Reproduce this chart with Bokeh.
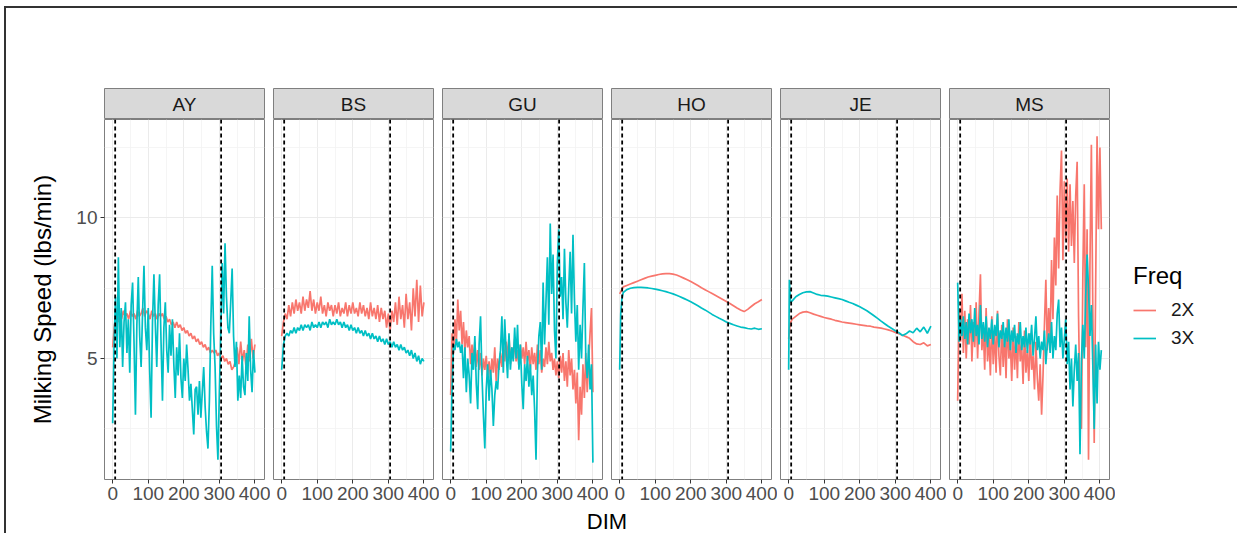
from bokeh.plotting import figure
from bokeh.layouts import row, column
from bokeh.models import (Range1d, FixedTicker, Span, Label, Legend, LegendItem,
                          Spacer)
from bokeh.embed import file_html
from bokeh.resources import INLINE

# ---------------- data ----------------
panels = ["AY", "BS", "GU", "HO", "JE", "MS"]
freqs = ["2X", "3X"]
vline_dim = [7, 305]
x_ticks = [0, 100, 200, 300, 400]
x_minor = [50, 150, 250, 350]
y_ticks = [5, 10]
y_minor = [2.5, 7.5, 12.5]

ay_2x = [5.4, 6.2, 6.5, 6.3, 6.6, 6.4, 6.7, 6.5, 6.6, 6.4,
         6.7, 6.5, 6.6, 6.4, 6.7, 6.5, 6.6, 6.8, 6.5, 6.7,
         6.6, 6.4, 6.7, 6.5, 6.6, 6.4, 6.6, 6.5, 6.6, 6.4,
         6.5, 6.3, 6.4, 6.2, 6.3, 6.1, 6.3, 6.1, 6.2, 6.0,
         6.1, 5.9, 6.0, 5.8, 5.9, 5.7, 5.8, 5.6, 5.7, 5.5,
         5.6, 5.4, 5.5, 5.3, 5.4, 5.2, 5.3, 5.2, 5.3, 5.1,
         5.2, 5.0, 5.1, 4.9, 5.0, 4.8, 4.9, 4.6, 4.7, 4.9,
         5.4, 4.8, 5.6, 4.9, 5.3, 4.7, 5.5, 4.9, 5.7, 5.0,
         5.5]
ay_2x_dim = list(range(0, 401, 5))

ay_3x = [2.7, 5.5, 7.2, 5.0, 8.6, 5.4, 6.8, 4.7, 6.3, 7.0,
         5.2, 6.4, 4.5, 6.9, 7.7, 5.6, 3.0, 6.2, 7.9, 5.8,
         4.7, 6.6, 8.3, 6.1, 5.3, 6.8, 4.6, 2.9, 6.3, 8.0,
         6.2, 4.7, 6.9, 8.0, 5.6, 3.5, 6.1, 7.0, 5.3, 4.5,
         6.2, 5.1, 6.4, 4.8, 3.6, 5.4, 4.4, 5.9, 4.3, 3.6,
         5.0, 4.2, 5.5, 4.6, 3.5, 4.1, 3.2, 2.3, 3.9, 4.0,
         3.0, 4.2, 2.9, 3.8, 4.7, 3.3, 2.4, 1.8, 3.5, 6.2,
         8.3, 5.9, 4.7, 2.6, 1.4, 3.8, 5.9, 8.4, 6.6, 9.1,
         7.2, 6.1, 5.9, 7.0, 8.2, 5.8, 4.7, 5.6, 3.5, 4.4,
         3.6, 5.1, 4.0, 3.7, 5.2, 4.2, 6.5, 4.6, 3.8, 5.3,
         4.5]
ay_3x_dim = list(range(0, 401, 4))

bs_2x = [5.8, 6.3, 6.6, 6.4, 6.9, 6.5, 7.0, 6.6, 7.1, 6.7,
         7.0, 6.6, 7.2, 6.7, 7.1, 6.8, 7.4, 6.7, 7.1, 6.6,
         7.0, 6.7, 7.2, 6.6, 6.9, 6.5, 7.0, 6.7, 6.9, 6.5,
         6.9, 6.6, 7.0, 6.5, 6.8, 6.6, 7.0, 6.5, 6.9, 6.6,
         7.0, 6.6, 6.8, 6.5, 7.0, 6.6, 6.9, 6.5, 6.8, 6.4,
         7.0, 6.5, 6.8, 6.4, 6.9, 6.3, 6.8, 6.4, 6.7, 6.1,
         6.6, 6.0, 6.7, 6.3, 7.0, 6.2, 7.2, 6.4, 6.9, 6.1,
         7.3, 6.4, 7.0, 6.0, 7.5, 6.5, 7.8, 6.3, 7.6, 6.5,
         7.0]
bs_2x_dim = list(range(0, 401, 5))

bs_3x = [4.6, 5.5, 5.8, 5.9, 5.8, 6.0, 5.9, 6.1, 5.9, 6.1,
         6.0, 6.2, 6.0, 6.2, 6.1, 6.2, 6.0, 6.3, 6.1, 6.2,
         6.1, 6.3, 6.1, 6.3, 6.2, 6.3, 6.1, 6.4, 6.2, 6.3,
         6.2, 6.4, 6.2, 6.3, 6.1, 6.3, 6.1, 6.2, 6.0, 6.2,
         6.0, 6.1, 5.9, 6.1, 5.9, 6.0, 5.8, 6.0, 5.8, 5.9,
         5.7, 5.9, 5.7, 5.8, 5.6, 5.8, 5.6, 5.7, 5.5, 5.7,
         5.5, 5.6, 5.4, 5.6, 5.4, 5.5, 5.3, 5.5, 5.3, 5.4,
         5.2, 5.3, 5.1, 5.3, 5.0, 5.2, 4.9, 5.1, 4.8, 5.0,
         4.9]
bs_3x_dim = list(range(0, 401, 5))

gu_2x = [3.7, 5.9, 5.2, 6.4, 5.6, 7.1, 6.0, 6.7, 5.5, 6.3,
         5.2, 6.0, 5.4, 5.8, 4.8, 5.5, 4.9, 5.6, 4.7, 5.3,
         4.6, 5.2, 4.4, 5.0, 4.6, 5.1, 4.4, 4.9, 4.3, 5.0,
         4.5, 5.4, 4.2, 5.0, 4.6, 5.2, 4.7, 5.5, 4.9, 5.6,
         5.0, 5.8, 4.8, 5.4, 5.0, 5.7, 4.9, 5.3, 4.7, 5.5,
         5.0, 5.4, 4.8, 5.6, 4.9, 5.3, 4.6, 5.4, 4.8, 5.2,
         4.6, 5.5, 4.8, 5.3, 4.5, 5.0, 4.7, 5.4, 4.8, 5.6,
         4.9, 5.2, 4.6, 5.0, 4.4, 4.9, 4.3, 5.1, 4.5, 5.2,
         4.2, 4.9, 4.0, 5.3, 4.4, 5.0, 3.9, 4.6, 3.4, 4.5,
         2.1, 4.0, 3.0, 4.8, 3.6, 5.2, 3.8, 4.9, 5.9, 6.8,
         3.8]
gu_2x_dim = list(range(0, 401, 4))

gu_3x = [1.7, 4.0, 5.5, 5.3, 5.7, 5.4, 5.6, 5.2, 5.5, 4.3,
         5.4, 3.8, 5.0, 4.4, 3.4, 5.2, 4.6, 5.8, 4.1, 3.2,
         5.5, 6.5, 4.4, 3.0, 1.8, 3.9, 4.8, 3.5, 4.6, 3.9,
         2.6, 3.7, 4.2, 3.9, 4.8, 5.3, 6.5, 4.5, 6.4, 5.2,
         4.3, 5.9, 4.6, 5.4, 4.9, 6.1, 5.0, 6.2, 4.6, 5.5,
         4.1, 3.2, 4.8, 4.2, 5.1, 4.0, 4.8, 3.7, 4.4, 3.2,
         1.4, 4.5, 5.8, 6.3, 4.6, 7.7, 5.5, 7.0, 8.6, 6.2,
         9.8, 7.3, 8.7, 6.0, 5.0, 8.4, 9.6, 7.2, 7.9, 6.4,
         8.9, 7.0, 6.1, 7.5, 8.8, 6.6, 9.4, 7.1, 5.6, 6.9,
         4.6, 6.2, 5.0, 6.8, 8.4, 5.0, 4.3, 5.5, 3.9, 4.8,
         1.3]
gu_3x_dim = list(range(0, 401, 4))

ho_2x = [7.3, 7.55, 7.6, 7.65, 7.7, 7.75, 7.8, 7.85, 7.9, 7.93,
         7.96, 7.99, 8.01, 8.02, 8.02, 8.0, 7.97, 7.92, 7.86, 7.8,
         7.74, 7.67, 7.6, 7.52, 7.45, 7.38, 7.31, 7.24, 7.17, 7.1,
         7.03, 6.96, 6.88, 6.8, 6.73, 6.67, 6.75, 6.85, 6.95, 7.02,
         7.1]
ho_2x_dim = list(range(0, 401, 10))

ho_3x = [4.6, 6.6, 7.1,
         7.35, 7.45, 7.5, 7.52, 7.53, 7.53, 7.52, 7.51, 7.49, 7.47,
         7.44, 7.41, 7.38, 7.34, 7.3, 7.25, 7.2, 7.14, 7.08, 7.02,
         6.95, 6.88, 6.8, 6.73, 6.65, 6.57, 6.5, 6.43, 6.37, 6.3,
         6.25, 6.2, 6.16, 6.12, 6.1, 6.07, 6.05, 6.08, 6.04, 6.06]
ho_3x_dim = [0, 3, 6] + list(range(10, 401, 10))

je_2x = [5.7, 6.1, 6.3,
         6.4, 6.5, 6.6, 6.65, 6.67, 6.63, 6.58, 6.54, 6.5, 6.46,
         6.43, 6.4, 6.36, 6.33, 6.3, 6.28, 6.26, 6.24, 6.22, 6.2,
         6.18, 6.16, 6.15, 6.12, 6.1, 6.08, 6.05, 6.02, 5.98, 5.93,
         5.88, 5.83, 5.78, 5.72, 5.6, 5.52, 5.5, 5.56, 5.45, 5.5]
je_2x_dim = [0, 3, 6] + list(range(10, 401, 10))

je_3x = [4.6, 7.8, 7.0,
         7.05, 7.2, 7.28, 7.34, 7.37, 7.38, 7.33, 7.28, 7.25, 7.24,
         7.22, 7.19, 7.16, 7.13, 7.1, 7.05, 7.0, 6.96, 6.9, 6.84,
         6.77, 6.7, 6.61, 6.52, 6.43, 6.33, 6.24, 6.15, 6.07, 5.99,
         5.92, 5.82, 5.88, 5.98, 5.92, 6.08, 5.95, 6.12, 5.9, 6.15]
je_3x_dim = [0, 2, 5] + list(range(10, 401, 10))

ms_2x = [3.5, 6.8, 5.6, 7.3, 5.2, 6.7, 5.0, 6.4, 5.5, 6.9,
         4.9, 6.3, 5.4, 7.0, 5.0, 6.6, 8.0, 5.3, 6.1, 4.6,
         6.8, 4.9, 5.8, 4.4, 6.5, 4.8, 6.0, 4.5, 6.7, 5.1,
         4.4, 6.2, 4.7, 5.9, 4.3, 6.4, 5.0, 5.6, 4.2, 6.1,
         4.6, 5.8, 4.3, 6.3, 4.9, 5.5, 4.1, 6.0, 4.5, 5.3,
         4.2, 5.9, 4.6, 5.1, 3.9, 5.6, 4.3, 3.5, 4.8, 3.0,
         4.4, 6.2, 7.8, 5.3, 6.8, 5.6, 8.5, 6.4, 9.3, 7.6,
         10.8, 8.2, 11.0, 12.4, 8.5, 11.3, 9.2, 11.4, 8.8, 11.2,
         9.0, 10.6, 8.4, 10.8, 12.0, 6.5, 3.2, 2.5, 7.9, 11.2,
         5.4, 9.6, 1.4, 8.3, 12.6, 6.8, 2.0, 7.5, 12.9, 9.6,
         12.5, 9.6]
ms_2x_dim = list(range(0, 405, 4))

ms_3x = [7.7, 5.6, 6.4, 5.8, 6.5, 5.7, 6.3, 5.5, 6.6, 5.9,
         6.4, 5.6, 6.8, 5.8, 6.2, 5.5, 6.9, 5.7, 6.3, 5.6,
         6.5, 5.4, 6.1, 5.7, 6.4, 5.5, 6.2, 5.8, 6.6, 5.4,
         6.0, 5.7, 6.3, 5.4, 6.1, 5.6, 6.4, 5.3, 6.0, 5.6,
         6.2, 5.2, 5.9, 5.5, 6.3, 5.3, 5.8, 5.4, 6.1, 5.2,
         5.9, 5.5, 6.2, 5.1, 5.7, 6.5, 5.3, 5.8, 5.0, 5.6,
         5.3, 6.0, 4.8, 5.5, 5.9, 5.2, 6.3, 5.0, 5.8, 5.3,
         6.6, 7.1, 5.4, 6.1, 5.0, 5.7, 6.4, 4.8, 5.6, 3.9,
         5.0, 3.3, 4.6, 5.5, 4.2, 5.2, 1.6, 4.9, 6.2, 5.0,
         7.2, 8.7, 7.5, 5.8, 6.9, 4.8, 2.5, 5.5, 3.4, 5.6,
         4.6, 5.3]
ms_3x_dim = list(range(0, 405, 4))

series = {
    "AY": {"2X": (ay_2x_dim, ay_2x), "3X": (ay_3x_dim, ay_3x)},
    "BS": {"2X": (bs_2x_dim, bs_2x), "3X": (bs_3x_dim, bs_3x)},
    "GU": {"2X": (gu_2x_dim, gu_2x), "3X": (gu_3x_dim, gu_3x)},
    "HO": {"2X": (ho_2x_dim, ho_2x), "3X": (ho_3x_dim, ho_3x)},
    "JE": {"2X": (je_2x_dim, je_2x), "3X": (je_3x_dim, je_3x)},
    "MS": {"2X": (ms_2x_dim, ms_2x), "3X": (ms_3x_dim, ms_3x)},
}

# ---------------- style / layout ----------------
FONT = "Liberation Sans"
COLORS = {"2X": "#F8766D", "3X": "#00BFC4"}
X_RANGE = (-23, 427)
Y_RANGE = (0.7, 13.5)
PANEL_W = 160
PANEL_H = 360
LEFT = 98          # room for y axis of first panel
GAP_L = 3          # gap split between neighbouring panels
GAP_R = 6
LEG_W = 122        # legend column
STRIP_TOP = 80
STRIP_H = 31
BOTTOM = 29
DIM_H = 25
BORDER = "#7F7F7F"
TICK_FS = "19px"
TITLE_FS = "24px"
LINE_W = 1.7

strip_figs = []
panel_figs = []
n = len(panels)
for i, name in enumerate(panels):
    lb = LEFT if i == 0 else GAP_L
    rb = GAP_R

    s = figure(frame_width=PANEL_W, frame_height=STRIP_H, x_range=(0, 1),
               y_range=(0, 1), x_axis_type=None, y_axis_type=None,
               toolbar_location=None, output_backend="svg", title=None,
               min_border_left=lb, min_border_right=rb,
               min_border_top=STRIP_TOP, min_border_bottom=0)
    s.background_fill_color = "#D9D9D9"
    s.border_fill_color = "white"
    s.outline_line_color = BORDER
    s.outline_line_width = 1
    s.add_layout(Label(x=0.5, y=0.5, text=name, text_align="center",
                       text_baseline="middle", text_font=FONT,
                       text_font_size=TICK_FS, text_color="#1A1A1A"))
    strip_figs.append(s)

    p = figure(frame_width=PANEL_W, frame_height=PANEL_H,
               x_range=Range1d(*X_RANGE), y_range=Range1d(*Y_RANGE),
               toolbar_location=None, output_backend="svg", title=None,
               min_border_left=lb, min_border_right=rb,
               min_border_top=0, min_border_bottom=BOTTOM,
               y_axis_location="left" if i == 0 else None)
    p.background_fill_color = "white"
    p.border_fill_color = "white"
    p.outline_line_color = BORDER
    p.outline_line_width = 1

    xt = FixedTicker(ticks=x_ticks, minor_ticks=x_minor)
    yt = FixedTicker(ticks=y_ticks, minor_ticks=y_minor)
    p.xaxis.ticker = xt
    p.xgrid.ticker = xt
    p.ygrid.ticker = yt
    for g in (p.xgrid[0], p.ygrid[0]):
        g.grid_line_color = "#EBEBEB"
        g.grid_line_width = 1
        g.minor_grid_line_color = "#F3F3F3"
        g.minor_grid_line_width = 0.8

    axes = [p.xaxis[0]]
    if i == 0:
        p.yaxis.ticker = yt
        axes.append(p.yaxis[0])
        p.yaxis.axis_label = "Milking Speed (lbs/min)"
        p.yaxis.axis_label_text_font = FONT
        p.yaxis.axis_label_text_font_size = TITLE_FS
        p.yaxis.axis_label_text_font_style = "normal"
        p.yaxis.axis_label_text_color = "black"
        p.yaxis.axis_label_standoff = 17
    for ax in axes:
        ax.axis_line_color = None
        ax.major_tick_line_color = "#333333"
        ax.major_tick_in = 0
        ax.major_tick_out = 4
        ax.minor_tick_line_color = None
        ax.major_label_text_font = FONT
        ax.major_label_text_font_size = TICK_FS
        ax.major_label_text_color = "#4D4D4D"
    p.xaxis.major_label_standoff = 3
    if i == 0:
        p.yaxis.major_label_standoff = 3

    for f in freqs:
        xs, ys = series[name][f]
        p.line(xs, ys, line_color=COLORS[f], line_width=LINE_W)

    for v in vline_dim:
        p.add_layout(Span(location=v, dimension="height", line_color="black",
                          line_dash="4 3", line_width=1.8))
    panel_figs.append(p)

# legend column (its own frame so the legend is not clipped); the key
# renderers reuse the MS series, which fall outside this frame's ranges
lg = figure(frame_width=LEG_W, frame_height=PANEL_H, x_range=(0, 1),
            y_range=(0, 1), x_axis_type=None, y_axis_type=None,
            toolbar_location=None, output_backend="svg", title=None,
            min_border_left=0, min_border_right=0,
            min_border_top=0, min_border_bottom=BOTTOM)
lg.outline_line_color = None
lg.background_fill_color = "white"
lg.border_fill_color = "white"
key_rends = {}
for f in freqs:
    xs, ys = series["MS"][f]
    key_rends[f] = lg.line(xs, ys, line_color=COLORS[f], line_width=LINE_W)
legend = Legend(
    items=[LegendItem(label=f, renderers=[key_rends[f]]) for f in freqs],
    title="Freq", location=(18, 127), orientation="vertical",
    title_text_font=FONT, title_text_font_size=TITLE_FS,
    title_text_font_style="normal", title_text_color="black",
    title_standoff=6,
    label_text_font=FONT, label_text_font_size=TICK_FS,
    label_text_color="#1A1A1A",
    glyph_width=23, glyph_height=28, label_height=28, spacing=0,
    label_standoff=15, padding=4, margin=0,
    border_line_color=None, background_fill_alpha=0)
lg.add_layout(legend, "center")
panel_figs.append(lg)

total_w = LEFT + (PANEL_W + GAP_L + GAP_R) * n - GAP_L + LEG_W
d = figure(frame_width=total_w, frame_height=DIM_H, x_range=(0, total_w),
           y_range=(0, DIM_H), x_axis_type=None, y_axis_type=None,
           toolbar_location=None, output_backend="svg", title=None,
           min_border_left=0, min_border_right=0,
           min_border_top=0, min_border_bottom=0)
d.outline_line_color = None
d.background_fill_color = "white"
d.border_fill_color = "white"
center_x = LEFT + (PANEL_W * n + (GAP_L + GAP_R) * (n - 1)) / 2
d.add_layout(Label(x=center_x, y=DIM_H / 2, text="DIM", text_align="center",
                   text_baseline="middle", text_font=FONT,
                   text_font_size="22px", text_color="black"))

inner = column(row(*strip_figs, spacing=0), row(*panel_figs, spacing=0), d,
               spacing=0,
               styles={"border-top": "2px solid #333333",
                       "border-left": "2px solid #333333"})
layout = row(Spacer(width=4), column(Spacer(height=6), inner, spacing=0),
             spacing=0)

open("out.html", "w").write(file_html(layout, INLINE))
